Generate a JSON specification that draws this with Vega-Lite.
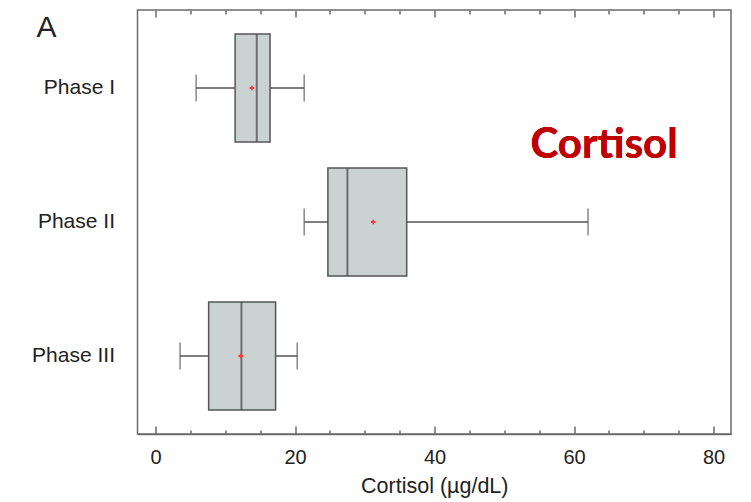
{
  "$schema": "https://vega.github.io/schema/vega-lite/v6.json",
  "width": 593.5,
  "height": 424,
  "autosize": {"type": "none"},
  "padding": {"left": 137.5, "top": 10, "right": 20, "bottom": 68},
  "background": "white",
  "title": {"text": "A", "anchor": "start", "frame": "group", "orient": "top", "dx": -101, "dy": 58, "offset": 0, "fontSize": 30, "font": "Liberation Sans", "fontWeight": "normal", "color": "#222222", "baseline": "alphabetic"},
  "config": {
    "view": {"stroke": "#6b6b6b", "strokeWidth": 1.5},
    "font": "Liberation Sans",
    "axis": {"labelFont": "Liberation Sans", "titleFont": "Liberation Sans", "labelColor": "#222222", "titleColor": "#222222", "domainColor": "#6b6b6b", "tickColor": "#6b6b6b", "domainWidth": 1.5, "tickWidth": 1.5, "grid": false}
  },
  "data": {"values": [
    {"phase": "Phase I", "low": 5.8, "q1": 11.4, "median": 14.5, "q3": 16.4, "high": 21.3, "mean": 13.8},
    {"phase": "Phase II", "low": 21.3, "q1": 24.7, "median": 27.5, "q3": 36.0, "high": 62.0, "mean": 31.2},
    {"phase": "Phase III", "low": 3.5, "q1": 7.6, "median": 12.3, "q3": 17.2, "high": 20.3, "mean": 12.2}
  ]},
  "encoding": {
    "y": {"field": "phase", "type": "nominal", "sort": null,
      "scale": {"type": "band", "paddingInner": 0, "paddingOuter": 0.082},
      "axis": {"title": null, "ticks": false, "domain": false, "labelFontSize": 21, "labelPadding": 23}}
  },
  "layer": [
    {
      "mark": {"type": "rule", "color": "#555555", "strokeWidth": 1.5},
      "encoding": {
        "x": {"field": "low", "type": "quantitative",
          "scale": {"domain": [-2.6, 82.5], "nice": false, "zero": false},
          "axis": {"title": "Cortisol (µg/dL)", "titleFontSize": 21.5, "titleFontWeight": "normal", "titlePadding": 8,
            "labelFontSize": 20, "labelPadding": 21,
            "values": [0, 5, 10, 15, 20, 25, 30, 35, 40, 45, 50, 55, 60, 65, 70, 75, 80],
            "labelExpr": "datum.value % 20 === 0 ? datum.label : ''",
            "tickSize": {"condition": {"test": "datum.value % 20 === 0", "value": -8}, "value": -4}}},
        "x2": {"field": "high"}
      }
    },
    {
      "mark": {"type": "tick", "color": "#555555", "thickness": 1.5, "size": 27},
      "encoding": {"x": {"field": "low", "type": "quantitative", "axis": null}}
    },
    {
      "mark": {"type": "tick", "color": "#555555", "thickness": 1.5, "size": 27},
      "encoding": {"x": {"field": "high", "type": "quantitative", "axis": null}}
    },
    {
      "mark": {"type": "bar", "fill": "#cbd2d2", "stroke": "#555555", "strokeWidth": 1.5, "size": 108},
      "encoding": {"x": {"field": "q1", "type": "quantitative", "axis": null}, "x2": {"field": "q3"}}
    },
    {
      "mark": {"type": "tick", "color": "#444444", "thickness": 2, "size": 108},
      "encoding": {"x": {"field": "median", "type": "quantitative", "axis": null}}
    },
    {
      "mark": {"type": "point", "shape": "cross", "filled": true, "color": "#ff3b3b", "size": 22, "opacity": 1},
      "encoding": {"x": {"field": "mean", "type": "quantitative", "axis": null}}
    },
    {
      "mark": {"type": "text", "text": "Cortisol", "font": "Lato", "fontWeight": "bold", "fontSize": 42, "color": "#c00000", "align": "center", "baseline": "middle", "dy": 57},
      "encoding": {"x": {"datum": 64.3, "type": "quantitative", "axis": null}, "y": {"datum": "Phase I", "type": "nominal"}}
    },
    {
      "mark": {"type": "rule", "opacity": 0},
      "encoding": {
        "x": {"field": "low", "type": "quantitative",
          "axis": {"orient": "top", "title": null, "labels": false, "domain": false,
            "values": [0, 5, 10, 15, 20, 25, 30, 35, 40, 45, 50, 55, 60, 65, 70, 75, 80],
            "tickSize": {"condition": {"test": "datum.value % 20 === 0", "value": -7}, "value": -4}}}
      }
    }
  ],
  "resolve": {"axis": {"x": "independent"}}
}
